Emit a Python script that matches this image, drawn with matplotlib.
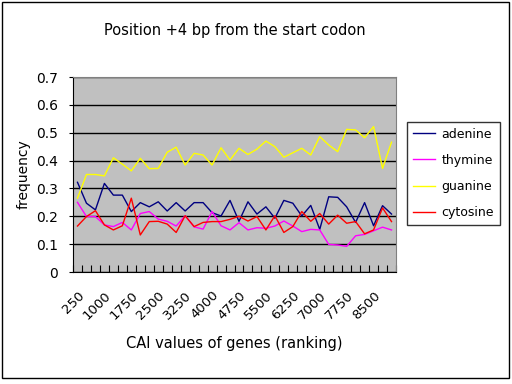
import matplotlib
matplotlib.use('Agg')
import matplotlib.pyplot as plt
from matplotlib.patches import Rectangle

# CAI ranking categories (250 .. 9000, step 250)
ranks = [250 * (i + 1) for i in range(36)]

adenine = [0.322, 0.247, 0.223, 0.318, 0.276, 0.276, 0.217, 0.249, 0.234, 0.252,
           0.219, 0.249, 0.219, 0.249, 0.249, 0.213, 0.201, 0.257, 0.182, 0.252,
           0.208, 0.234, 0.193, 0.257, 0.247, 0.201, 0.239, 0.153, 0.270, 0.268,
           0.234, 0.178, 0.249, 0.166, 0.238, 0.208]
thymine = [0.250, 0.199, 0.199, 0.169, 0.163, 0.178, 0.151, 0.210, 0.217, 0.190,
           0.182, 0.165, 0.202, 0.162, 0.154, 0.217, 0.166, 0.151, 0.177, 0.151,
           0.159, 0.157, 0.165, 0.183, 0.165, 0.145, 0.153, 0.151, 0.099, 0.097,
           0.092, 0.130, 0.135, 0.148, 0.161, 0.151]
guanine = [0.265, 0.350, 0.350, 0.345, 0.410, 0.387, 0.363, 0.408, 0.371, 0.372,
           0.430, 0.448, 0.384, 0.426, 0.420, 0.384, 0.446, 0.402, 0.444, 0.422,
           0.441, 0.470, 0.450, 0.412, 0.428, 0.444, 0.420, 0.486, 0.456, 0.432,
           0.512, 0.510, 0.482, 0.522, 0.372, 0.466]
cytosine = [0.165, 0.199, 0.220, 0.169, 0.151, 0.166, 0.265, 0.133, 0.181, 0.182,
            0.172, 0.142, 0.202, 0.163, 0.178, 0.181, 0.181, 0.189, 0.200, 0.183,
            0.199, 0.151, 0.202, 0.142, 0.163, 0.217, 0.182, 0.210, 0.172, 0.204,
            0.175, 0.181, 0.137, 0.151, 0.230, 0.181]

series = [("adenine", adenine, "#000080"),
          ("thymine", thymine, "#FF00FF"),
          ("guanine", guanine, "#FFFF00"),
          ("cytosine", cytosine, "#FF0000")]

plt.rcParams['font.family'] = ['DejaVu Sans']

fig = plt.figure(figsize=(5.12, 3.84), dpi=100)
fig.patches.append(Rectangle((0.004, 0.016), 0.99, 0.978, transform=fig.transFigure,
                             fill=False, edgecolor='black', linewidth=1.0))

ax = fig.add_axes([73 / 512, 1 - 272 / 384, 323 / 512, 195 / 384])
ax.set_facecolor('#C0C0C0')

x = list(range(len(ranks)))
for name, vals, col in series:
    ax.plot(x, vals, color=col, linewidth=1.0, label=name, zorder=3)

ax.set_xlim(-0.5, len(ranks) - 0.5)
ax.set_ylim(0, 0.7)

yt = [i / 10 for i in range(8)]
ax.set_yticks(yt)
ax.set_yticklabels(['0'] + ['%.1f' % v for v in yt[1:]], fontsize=10)
ax.grid(axis='y', color='black', linewidth=1.0, zorder=1)
ax.tick_params(axis='y', length=3, width=0.8, pad=8)

ax.set_xticks([i - 0.5 for i in range(len(ranks) + 1)], minor=True)
ax.set_xticks(x[::3])
ax.set_xticklabels([str(r) for r in ranks[::3]], rotation=45, ha='right',
                   rotation_mode='anchor', fontsize=9.5)
ax.tick_params(axis='x', which='major', length=0, pad=12)
ax.tick_params(axis='x', which='minor', direction='in', length=5, width=0.8)

for side in ['top', 'right']:
    ax.spines[side].set_color('#808080')
for side in ['left', 'bottom']:
    ax.spines[side].set_color('black')

ax.set_ylabel('frequency', fontsize=10, labelpad=4)
ax.set_xlabel('CAI values of genes (ranking)', fontsize=10.5, labelpad=10)
ax.set_title('Position +4 bp from the start codon', fontsize=10.5, pad=30)

leg = ax.legend(loc='upper left', bbox_to_anchor=(407 / 512, 1 - 122 / 384),
                bbox_transform=fig.transFigure, fontsize=9, frameon=True,
                fancybox=False, edgecolor='black', borderaxespad=0,
                handlelength=1.8, handletextpad=0.5, labelspacing=1.05,
                borderpad=0.45)
leg.get_frame().set_linewidth(1.0)

fig.savefig('out.png', dpi=100)
